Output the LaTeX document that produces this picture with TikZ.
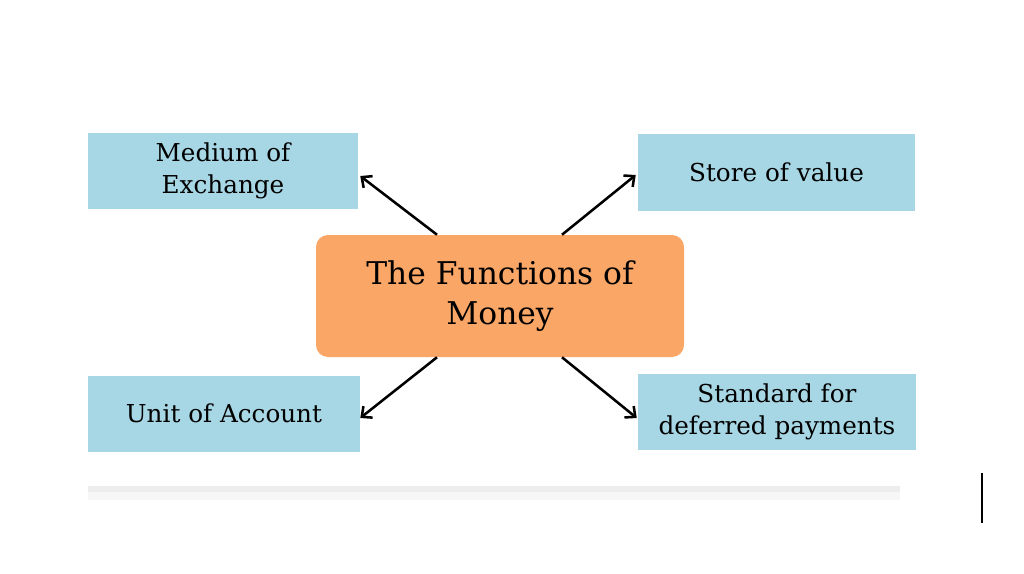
\documentclass[tikz,border=0pt]{standalone}
\usepackage{fontspec}
\setmainfont{DejaVu Serif}
\usetikzlibrary{positioning,calc,arrows.meta}
\definecolor{fnblue}{RGB}{167,214,228}
\definecolor{fnorange}{RGB}{250,166,102}

\begin{document}
\begin{tikzpicture}[
  x=0.75pt, y=-0.75pt,
  func/.style={rectangle, fill=fnblue, minimum width=#1*0.75pt, minimum height=76*0.75pt,
    align=center, inner sep=0pt, font=\fontsize{18.5}{24}\selectfont},
  func/.default=272,
  hub/.style={rectangle, rounded corners=9pt, fill=fnorange, minimum width=368*0.75pt,
    minimum height=122*0.75pt, align=center, font=\fontsize{23.5}{30}\selectfont},
  link/.style={draw, line width=1.9pt, -{Straight Barb[length=6pt,width=11pt,line width=1.9pt]}}
]
  \useasboundingbox[fill=white] (0,0) rectangle (1024,574);

  % panel shadow
  \fill[black!7] (88,486) rectangle (900,492);
  \fill[black!3] (88,492) rectangle (900,500);

  \node[hub] (money) at (500,296) {The Functions of\\Money};

  \node[func=270] (medium) at (223,171) {Medium of\\Exchange};
  \node[func=277] (store) at (776.5,172.5) {Store of value};
  \node[func=272] (unit) at (224,413.5) {Unit of Account};
  \node[func=278] (deferred) at (777,411.5) {Standard for\\deferred payments};

  \draw[link] ($(money.north)+(-63,0)$) -- ($(medium.east)+(2,5)$);
  \draw[link] ($(money.north)+(62,0)$) -- ($(store.west)+(-2,2.5)$);
  \draw[link] ($(money.south)+(-63,0)$) -- ($(unit.east)+(0,4.5)$);
  \draw[link] ($(money.south)+(62,0)$) -- ($(deferred.west)+(-1,6.5)$);

  % cursor mark
  \draw[line width=2.2pt] (982,473) -- (982,523);
\end{tikzpicture}
\end{document}
